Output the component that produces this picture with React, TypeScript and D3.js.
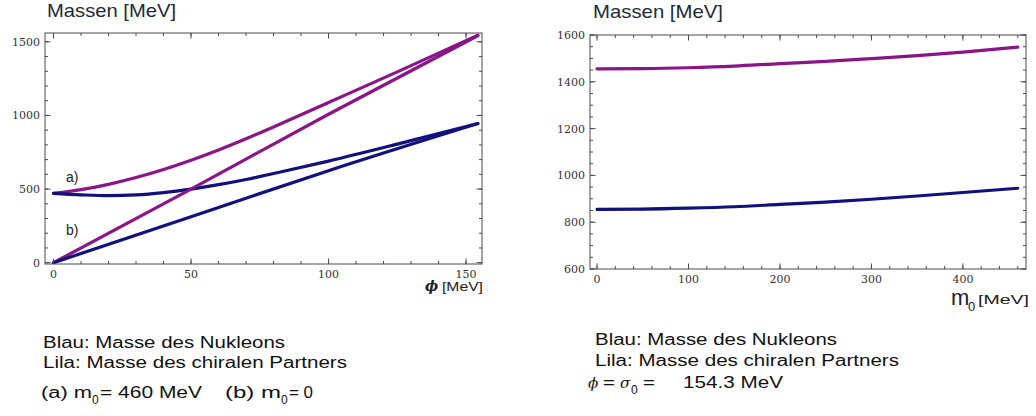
import React from 'react';
import * as d3 from 'd3';

// (a) m0 = 460 MeV, Massen über phi
const phiA = [0, 10, 20, 30, 40, 50, 60, 70, 80, 100, 125, 154.3];
const nukleonA = [471, 461, 455, 460, 476, 500, 530, 565, 606, 690, 805, 945];
const partnerA = [471, 496, 532, 578, 633, 696, 766, 842, 922, 1088, 1296, 1545];

// (b) m0 = 0
const phiB = [0, 50, 100, 154.3];
const nukleonB = [0, 312, 625, 945];
const partnerB = [0, 500, 1008, 1542];

// rechts: Massen über m0 bei phi = sigma0
const m0Values = [0, 50, 100, 150, 200, 250, 300, 350, 400, 460];
const nukleonR = [855, 856, 860, 866, 876, 886, 898, 912, 927, 945];
const partnerR = [1455, 1456, 1460, 1467, 1478, 1487, 1499, 1512, 1527, 1548];

const leftXTicks = [0, 50, 100, 150];
const leftYTicks = [0, 500, 1000, 1500];
const rightXTicks = [0, 100, 200, 300, 400];
const rightYTicks = [600, 800, 1000, 1200, 1400, 1600];

const BLUE = '#10107e';
const PURPLE = '#8a1488';
const FRAME = '#4a4a4a';
const SANS = '"Liberation Sans", Arial, sans-serif';
const SERIF = '"DejaVu Serif", serif';

type Curve = { xs: number[]; ys: number[]; color: string };

function Panel(props: {
  left: number; right: number; top: number; bottom: number;
  xDomain: [number, number]; yDomain: [number, number];
  xMajor: number[]; xMinor: number[]; yMajor: number[]; yMinor: number[];
  curves: Curve[]; yLabelX: number;
  children?: (x: d3.ScaleLinear<number, number>, y: d3.ScaleLinear<number, number>) => React.ReactNode;
}) {
  const { left, right, top, bottom } = props;
  const x = d3.scaleLinear().domain(props.xDomain).range([left, right]);
  const y = d3.scaleLinear().domain(props.yDomain).range([bottom, top]);
  const big = 5.5;
  const small = 3;

  return (
    <g>
      <defs>
        <clipPath id={`clip${left}`}>
          <rect x={left} y={top} width={right - left} height={bottom - top} />
        </clipPath>
      </defs>
      <g clipPath={`url(#clip${left})`}>
        {props.curves.map((c, i) => {
          const line = d3.line<number>()
            .x((_, j) => x(c.xs[j]))
            .y((d) => y(d))
            .curve(d3.curveMonotoneX);
          return (
            <path key={i} d={line(c.ys) || ''} fill="none" stroke={c.color}
              strokeWidth={3.2} strokeLinecap="round" />
          );
        })}
      </g>
      <rect x={left} y={top} width={right - left} height={bottom - top}
        fill="none" stroke={FRAME} strokeWidth={1} />
      {props.xMinor.map((t) => (
        <g key={'xm' + t} stroke={FRAME}>
          <line x1={x(t)} x2={x(t)} y1={bottom} y2={bottom - small} />
          <line x1={x(t)} x2={x(t)} y1={top} y2={top + small} />
        </g>
      ))}
      {props.xMajor.map((t) => (
        <g key={'xM' + t}>
          <line x1={x(t)} x2={x(t)} y1={bottom} y2={bottom - big} stroke={FRAME} />
          <line x1={x(t)} x2={x(t)} y1={top} y2={top + big} stroke={FRAME} />
          <text x={x(t)} y={bottom + 14} textAnchor="middle" fontFamily={SERIF}
            fontSize={11} fill="#333">{t}</text>
        </g>
      ))}
      {props.yMinor.map((t) => (
        <g key={'ym' + t} stroke={FRAME}>
          <line x1={left} x2={left + small} y1={y(t)} y2={y(t)} />
          <line x1={right} x2={right - small} y1={y(t)} y2={y(t)} />
        </g>
      ))}
      {props.yMajor.map((t) => (
        <g key={'yM' + t}>
          <line x1={left} x2={left + big} y1={y(t)} y2={y(t)} stroke={FRAME} />
          <line x1={right} x2={right - big} y1={y(t)} y2={y(t)} stroke={FRAME} />
          <text x={props.yLabelX} y={y(t) + 4} textAnchor="end" fontFamily={SERIF}
            fontSize={11} fill="#333">{t}</text>
        </g>
      ))}
      {props.children && props.children(x, y)}
    </g>
  );
}

export default function App() {
  return (
    <svg width={1036} height={416} style={{ position: 'absolute', left: 0, top: 0, background: '#fff' }}>
      {/* linkes Diagramm */}
      <text x={47} y={17} fontFamily={SANS} fontSize={19} fill="#1e2a3a" textLength={129}
        lengthAdjust="spacingAndGlyphs">Massen [MeV]</text>
      <Panel left={45} right={482} top={33} bottom={264}
        xDomain={[-3.1, 155.8]} yDomain={[-9, 1560]}
        xMajor={leftXTicks} xMinor={d3.range(0, 151, 10)}
        yMajor={leftYTicks} yMinor={d3.range(0, 1501, 100)}
        yLabelX={40}
        curves={[
          { xs: phiA, ys: partnerA, color: PURPLE },
          { xs: phiA, ys: nukleonA, color: BLUE },
          { xs: phiB, ys: partnerB, color: PURPLE },
          { xs: phiB, ys: nukleonB, color: BLUE },
        ]}>
        {(x, y) => (
          <g fontFamily={SANS} fontSize={14} fill="#222">
            <text x={x(4.5)} y={y(550)}>a)</text>
            <text x={x(4.5)} y={y(185)}>b)</text>
          </g>
        )}
      </Panel>
      <text x={425} y={291} fontFamily={SERIF} fontStyle="italic" fontWeight="bold"
        fontSize={14} fill="#222">ϕ</text>
      <text x={442} y={291} fontFamily={SANS} fontSize={13} fill="#222" textLength={41}
        lengthAdjust="spacingAndGlyphs">[MeV]</text>

      {/* rechtes Diagramm */}
      <text x={593} y={18} fontFamily={SANS} fontSize={19} fill="#1e2a3a" textLength={130}
        lengthAdjust="spacingAndGlyphs">Massen [MeV]</text>
      <Panel left={590} right={1026} top={35} bottom={269}
        xDomain={[-7.7, 469]} yDomain={[600, 1600]}
        xMajor={rightXTicks} xMinor={d3.range(0, 461, 20)}
        yMajor={rightYTicks} yMinor={d3.range(600, 1601, 50)}
        yLabelX={585}
        curves={[
          { xs: m0Values, ys: partnerR, color: PURPLE },
          { xs: m0Values, ys: nukleonR, color: BLUE },
        ]} />
      <text x={951} y={305} fontFamily={SANS} fontSize={22} fill="#222">m</text>
      <text x={968} y={311} fontFamily={SANS} fontSize={13} fill="#222">0</text>
      <text x={978} y={304} fontFamily={SANS} fontSize={13} fill="#222" textLength={51}
        lengthAdjust="spacingAndGlyphs">[MeV]</text>

      {/* Beschriftung links */}
      <g fontFamily={SANS} fontSize={16} fill="#111">
        <text x={43} y={348} textLength={242} lengthAdjust="spacingAndGlyphs">Blau: Masse des Nukleons</text>
        <text x={43} y={368} textLength={304} lengthAdjust="spacingAndGlyphs">Lila: Masse des chiralen Partners</text>
        <text x={41} y={398} textLength={51} lengthAdjust="spacingAndGlyphs">(a) m</text>
        <text x={92} y={404} fontSize={12}>0</text>
        <text x={100} y={398} textLength={102} lengthAdjust="spacingAndGlyphs">= 460 MeV</text>
        <text x={225} y={398} textLength={56} lengthAdjust="spacingAndGlyphs">(b) m</text>
        <text x={281} y={404} fontSize={12}>0</text>
        <text x={289} y={398} textLength={24} lengthAdjust="spacingAndGlyphs">= 0</text>
      </g>

      {/* Beschriftung rechts */}
      <g fontFamily={SANS} fontSize={16} fill="#111">
        <text x={595} y={345} textLength={242} lengthAdjust="spacingAndGlyphs">Blau: Masse des Nukleons</text>
        <text x={595} y={366} textLength={304} lengthAdjust="spacingAndGlyphs">Lila: Masse des chiralen Partners</text>
        <text x={588} y={388} fontFamily={SERIF} fontStyle="italic" fontSize={15}>ϕ</text>
        <text x={603} y={388} textLength={12} lengthAdjust="spacingAndGlyphs">=</text>
        <text x={620} y={388} fontFamily={SERIF} fontStyle="italic" fontSize={15}>σ</text>
        <text x={631} y={394} fontSize={12}>0</text>
        <text x={643} y={388} textLength={12} lengthAdjust="spacingAndGlyphs">=</text>
        <text x={683} y={388} textLength={100} lengthAdjust="spacingAndGlyphs">154.3 MeV</text>
      </g>
    </svg>
  );
}
